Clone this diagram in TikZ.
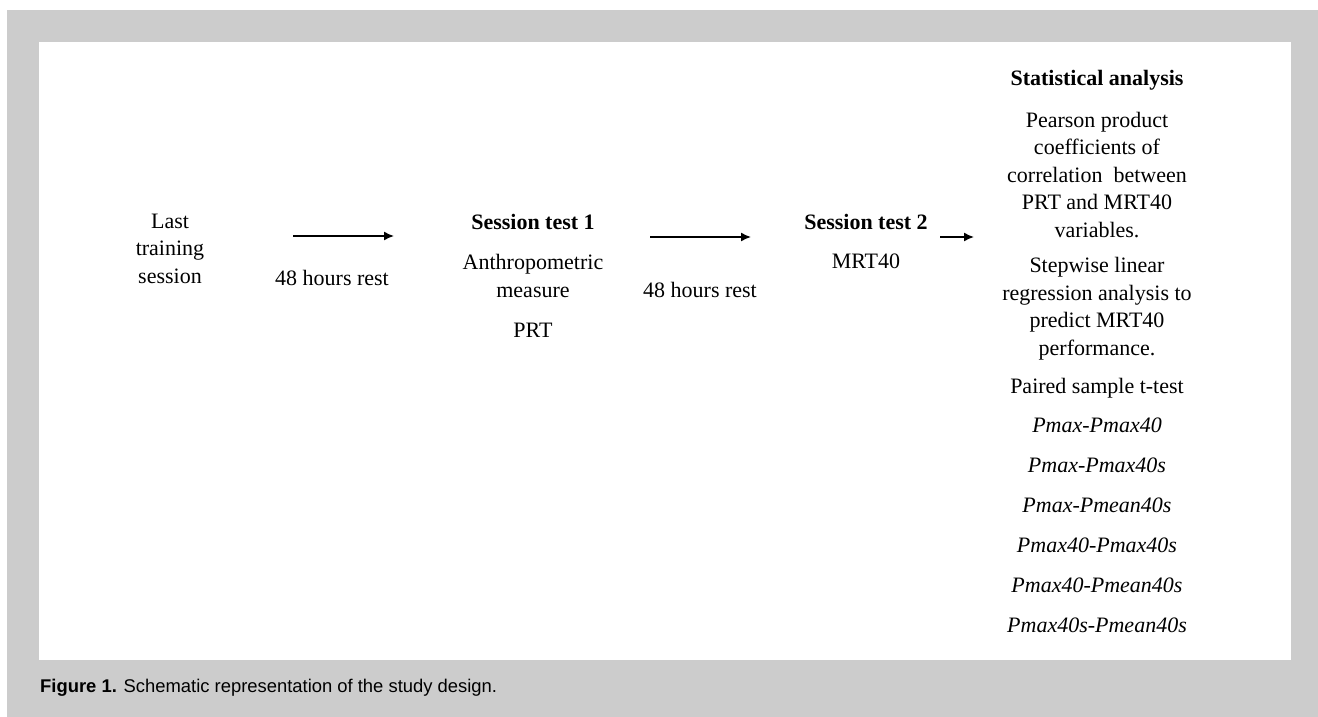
\documentclass[tikz,border=0pt]{standalone}
\usepackage{fontspec}
\setmainfont{Liberation Serif}
\newfontfamily\capfont{Liberation Sans}
\usetikzlibrary{arrows.meta}
\definecolor{framegray}{HTML}{CCCCCC}
\tikzset{
  txt/.style={inner sep=0pt, align=center, anchor=base, font=\fontsize{22}{27.5}\selectfont},
  bold/.style={txt, font=\fontsize{22}{27.5}\selectfont\bfseries},
  ital/.style={txt, font=\fontsize{22}{27.5}\selectfont\itshape},
  flow/.style={line width=1.5pt, -{Latex[length=10pt,width=9pt]}}
}
\begin{document}
\begin{tikzpicture}[x=1pt,y=-1pt]
\useasboundingbox (0,0) rectangle (1318,717);
\fill[white] (0,0) rectangle (1318,717);
\fill[framegray] (7,10) rectangle (1318,717);
\fill[white] (39,42) rectangle (1291,660);

% left (multi-line nodes: base = baseline of last line)
\node[txt] (last) at (170,283) {Last\\training\\session};
\node[txt] (rest1) at (332,285) {48 hours rest};
\node[bold] (st1) at (533,229) {Session test 1};
\node[txt] (anthro) at (533,297) {Anthropometric\\measure};
\node[txt] (prt) at (533,337) {PRT};
\node[txt] (rest2) at (700,297) {48 hours rest};
\node[bold] (st2) at (866,229) {Session test 2};
\node[txt] (mrt) at (866,268) {MRT40};

% right column
\node[bold] (stat) at (1097,85) {Statistical analysis};
\node[txt] (pearson) at (1097,237) {Pearson product\\coefficients of\\correlation\ \ between\\PRT and MRT40\\variables.};
\node[txt] (step) at (1097,355) {Stepwise linear\\regression analysis to\\predict MRT40\\performance.};
\node[txt] (paired) at (1097,393) {Paired sample t-test};
\node[ital] (p1) at (1097,432) {Pmax-Pmax40};
\node[ital] (p2) at (1097,472) {Pmax-Pmax40s};
\node[ital] (p3) at (1097,512) {Pmax-Pmean40s};
\node[ital] (p4) at (1097,552) {Pmax40-Pmax40s};
\node[ital] (p5) at (1097,592) {Pmax40-Pmean40s};
\node[ital] (p6) at (1097,632) {Pmax40s-Pmean40s};

% arrows
\coordinate (a1s) at (293,236);
\coordinate (a1e) at (394,236);
\coordinate (a2s) at (650,237);
\coordinate (a2e) at (751,237);
\coordinate (a3s) at (940,237);
\coordinate (a3e) at (974,237);
\draw[flow] (a1s) -- (a1e);
\draw[flow] (a2s) -- (a2e);
\draw[flow] (a3s) -- (a3e);

% caption
\node[inner sep=0pt, anchor=base west, font=\capfont\fontsize{18.4}{22}\selectfont] (cap) at (40,692) {\textbf{Figure 1.} Schematic representation of the study design.};
\end{tikzpicture}
\end{document}
